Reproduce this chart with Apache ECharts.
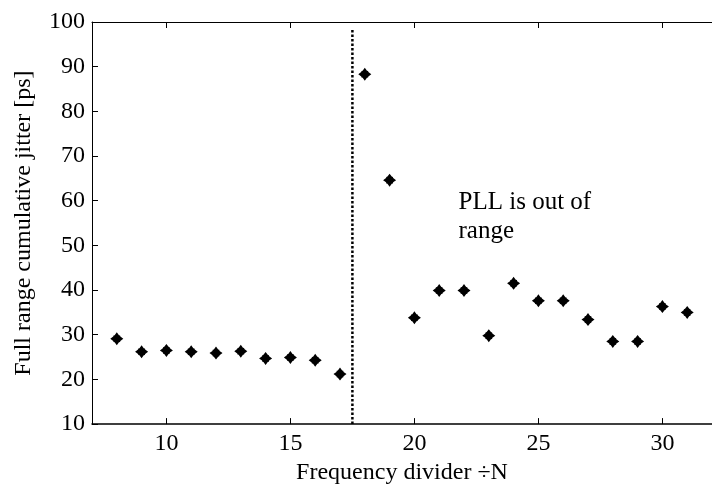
<!DOCTYPE html>
<html>
<head>
<meta charset="utf-8">
<script src="https://cdn.jsdelivr.net/npm/echarts@6/dist/echarts.min.js"></script>
<style>html,body{margin:0;padding:0;background:#fff}#c{width:712px;height:490px}</style>
</head>
<body>
<div id="c"></div>
<script>
const dividerN = [8, 9, 10, 11, 12, 13, 14, 15, 16, 17, 18, 19, 20, 21, 22, 23, 24, 25, 26, 27, 28, 29, 30, 31];
const jitterPs = [29.1, 26.2, 26.5, 26.2, 25.9, 26.3, 24.7, 24.9, 24.3, 21.2, 88.3, 64.6, 33.8, 39.9, 39.9, 29.8, 41.5, 37.6, 37.6, 33.4, 28.5, 28.5, 36.3, 35.0];
const xTicks = [10, 15, 20, 25, 30];
const boundaryX = 17.5;
const boundaryY = [98.2, 10];
const noteText = 'PLL is out of\nrange';
const notePos = [21.78, 62.8];

const FONT = '"Liberation Serif", "Times New Roman", serif';
const chart = echarts.init(document.getElementById('c'), null, {renderer: 'canvas'});
const starPath = 'path://M0,-6 L2,-3.3 L3,-3 L3.3,-2 L6,0 L3.3,2 L3,3 L2,3.3 L0,6 L-2,3.3 L-3,3 L-3.3,2 L-6,0 L-3.3,-2 L-3,-3 L-2,-3.3 Z';

chart.setOption({
  animation: false,
  backgroundColor: '#fff',
  grid: {left: 92, top: 22, right: -8, bottom: 60, show: false},
  xAxis: [{
    type: 'value', min: 7, max: 32, position: 'bottom',
    name: 'Frequency divider ÷N', nameLocation: 'middle', nameGap: 35,
    nameTextStyle: {fontFamily: FONT, fontSize: 24, color: '#000'},
    axisLine: {show: true, onZero: false, lineStyle: {color: '#000', width: 1.5}},
    axisTick: {show: true, inside: true, length: 6, customValues: xTicks, lineStyle: {color: '#000', width: 1}},
    axisLabel: {customValues: xTicks, fontFamily: FONT, fontSize: 24, color: '#000', margin: 8},
    splitLine: {show: false}
  }, {
    type: 'value', min: 7, max: 32, position: 'top',
    axisLine: {show: true, onZero: false, lineStyle: {color: '#000', width: 1}},
    axisTick: {show: true, inside: true, length: 6, customValues: xTicks, lineStyle: {color: '#000', width: 1}},
    axisLabel: {show: false},
    splitLine: {show: false}
  }],
  yAxis: [{
    type: 'value', min: 10, max: 100, interval: 10,
    name: 'Full range cumulative jitter [ps]', nameLocation: 'middle', nameGap: 56,
    nameTextStyle: {fontFamily: FONT, fontSize: 24, color: '#000'},
    axisLine: {show: true, onZero: false, lineStyle: {color: '#000', width: 1}},
    axisTick: {show: true, inside: true, length: 6, lineStyle: {color: '#000', width: 1}},
    axisLabel: {fontFamily: FONT, fontSize: 24, color: '#000', margin: 7},
    splitLine: {show: false}
  }],
  series: [{
    type: 'line',
    data: boundaryY.map(y => [boundaryX, y]),
    showSymbol: false, symbol: 'none',
    lineStyle: {color: '#000', width: 2.5, type: [2.5, 2], opacity: 1},
    silent: true, z: 1
  }, {
    type: 'scatter',
    data: dividerN.map((n, i) => [n, jitterPs[i]]),
    symbol: starPath, symbolSize: 13,
    itemStyle: {color: '#000', opacity: 1},
    z: 3
  }, {
    type: 'scatter',
    data: [notePos],
    symbolSize: 0,
    itemStyle: {opacity: 1},
    label: {show: true, position: [0, 0], align: 'left', verticalAlign: 'top',
      formatter: noteText, fontFamily: FONT, fontSize: 25, lineHeight: 29, color: '#000'},
    silent: true
  }]
});
</script>
</body>
</html>
